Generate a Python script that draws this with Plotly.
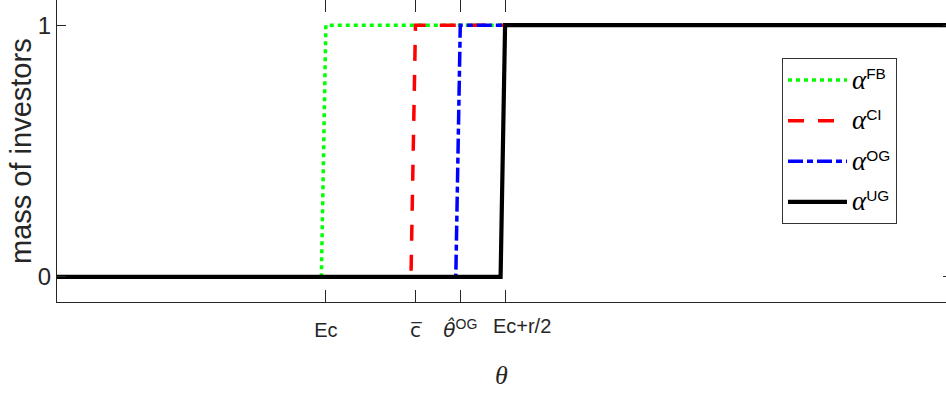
import plotly.graph_objects as go

# ---- data ----
theta_FB = [0.0, 0.295, 0.300, 1.0]
alpha_FB = [0, 0, 1, 1]
theta_CI = [0.0, 0.395, 0.400, 1.0]
alpha_CI = [0, 0, 1, 1]
theta_OG = [0.0, 0.445, 0.450, 1.0]
alpha_OG = [0, 0, 1, 1]
theta_UG = [0.0, 0.495, 0.500, 1.0]
alpha_UG = [0, 0, 1, 1]

x_tick_vals = [0.30, 0.40, 0.45, 0.50]
x_tick_text = ["Ec",
               "<span style=\"font-family:DejaVu Sans\">c\u0305</span>",
               "<span style=\"font-family:DejaVu Sans\"><i>\u03b8\u0302</i></span><sup>OG</sup>",
               ""]
x_tick_vals_shifted = [0.50]
x_tick_text_shifted = ["Ec+r/2"]
y_tick_vals = [0, 1]
y_tick_text = ["0", "1"]

SERIF = "Liberation Serif"
SANS = "Liberation Sans, Arial"

def leg(sup):
    return "<span style=\"font-family:Liberation Serif;font-size:27px\"><i>\u03b1</i></span><sup>" + sup + "</sup>"

fig = go.Figure()
fig.add_trace(go.Scatter(x=theta_FB, y=alpha_FB, mode="lines", name=leg("FB"), legendgroup="a",
                         line=dict(color="#00ff00", width=3.5, dash="4px,4px")))
fig.add_trace(go.Scatter(x=theta_CI, y=alpha_CI, mode="lines", name=leg("CI"), legendgroup="b",
                         line=dict(color="#ff0000", width=3.5, dash="16px,14px")))
fig.add_trace(go.Scatter(x=theta_OG, y=alpha_OG, mode="lines", name=leg("OG"), legendgroup="c",
                         line=dict(color="#0000ff", width=3.5, dash="15px,4px,6px,4px")))
fig.add_trace(go.Scatter(x=theta_UG, y=alpha_UG, mode="lines", name=leg("UG"), legendgroup="d",
                         line=dict(color="#000000", width=4.2)))
# invisible helper traces for top / right tick axes and the shifted label axis
fig.add_trace(go.Scatter(x=[theta_UG[0]], y=[alpha_UG[0]], xaxis="x2", yaxis="y2", mode="markers",
                         marker=dict(opacity=0), showlegend=False, hoverinfo="skip"))
fig.add_trace(go.Scatter(x=[theta_UG[0]], y=[alpha_UG[0]], xaxis="x3", yaxis="y", mode="markers",
                         marker=dict(opacity=0), showlegend=False, hoverinfo="skip"))

axcol = "#262626"
fig.update_layout(
    width=946, height=394,
    margin=dict(l=57, r=0, t=0, b=92, autoexpand=False),
    paper_bgcolor="white", plot_bgcolor="white",
    font=dict(family=SANS, size=20, color=axcol),
    xaxis=dict(range=[0, 0.992], showgrid=False, zeroline=False, showline=True, linecolor=axcol, linewidth=1.3,
               ticks="inside", ticklen=12, tickcolor=axcol, tickwidth=1, automargin=False, tickangle=0,
               tickvals=x_tick_vals, ticktext=x_tick_text, ticklabelstandoff=10,
               tickfont=dict(family=SANS, size=20, color=axcol),
               title=dict(text="<i>\u03b8</i>", font=dict(family=SERIF, size=26, color=axcol), standoff=24)),
    xaxis3=dict(overlaying="x", side="bottom", matches="x", showgrid=False, zeroline=False, showline=False,
                automargin=False, ticks="", tickangle=0, ticklabelshift=17, ticklabelstandoff=10,
                tickvals=x_tick_vals_shifted, ticktext=x_tick_text_shifted,
                tickfont=dict(family=SANS, size=20, color=axcol)),
    yaxis=dict(range=[-0.1, 1.1], showgrid=False, zeroline=False, showline=True, linecolor=axcol, linewidth=1.3,
               ticks="inside", ticklen=9, tickcolor=axcol, tickwidth=1, automargin=False,
               tickvals=y_tick_vals, ticktext=y_tick_text, ticklabelstandoff=0,
               tickfont=dict(family=SANS, size=24, color=axcol)),
    xaxis2=dict(overlaying="x", side="top", matches="x", showgrid=False, zeroline=False, showline=False,
                automargin=False,
                ticks="inside", ticklen=12, tickcolor=axcol, tickvals=x_tick_vals, showticklabels=False),
    yaxis2=dict(overlaying="y", side="right", matches="y", showgrid=False, zeroline=False, showline=False,
                automargin=False,
                ticks="inside", ticklen=3, tickcolor=axcol, tickvals=y_tick_vals, showticklabels=False),
    legend=dict(x=0.8155, y=0.807, xanchor="left", yanchor="top", bgcolor="white",
                bordercolor="#333333", borderwidth=1, tracegroupgap=9, itemwidth=59,
                font=dict(family=SANS, size=22, color="#000000")),
    showlegend=True,
    annotations=[dict(text="mass of investors", textangle=-90, xref="paper", yref="paper",
                      x=-0.0405, y=0.5, xanchor="center", yanchor="middle", showarrow=False,
                      font=dict(family=SANS, size=29, color=axcol))],
)

fig.write_html("out.html", config={"displayModeBar": False},
               post_script="document.body.style.margin='0';")
